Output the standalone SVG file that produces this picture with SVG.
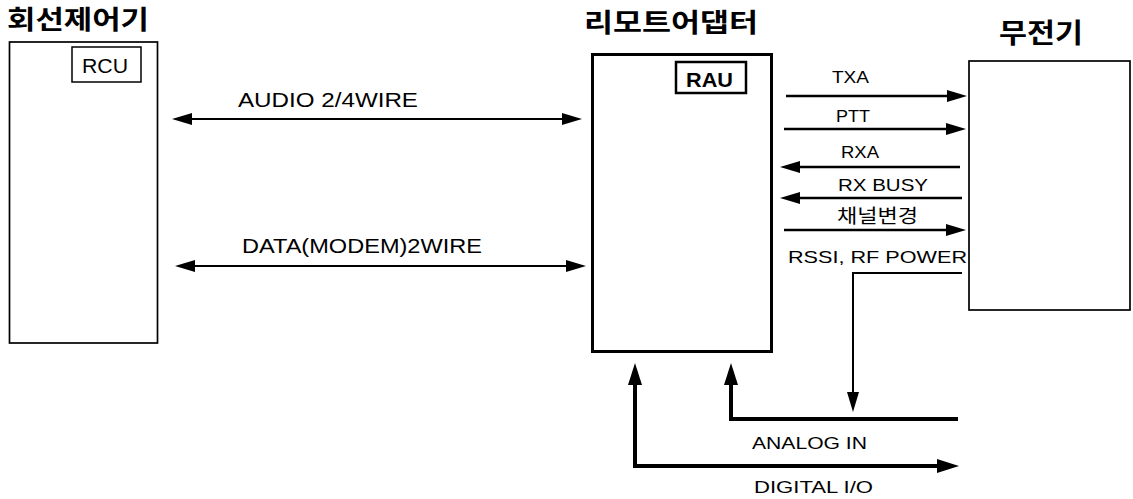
<svg xmlns="http://www.w3.org/2000/svg" width="1133" height="499" viewBox="0 0 1133 499">
<style>
text{font-family:"Liberation Sans","Noto Sans CJK KR",sans-serif;fill:#000}
.title{font-family:"Noto Sans CJK KR","Liberation Sans",sans-serif;font-weight:bold;font-size:26px}
.lbl{font-size:17px}
.big{font-size:20px}
.box{fill:#fff;stroke:#000}
.c{fill:none;stroke:#000}
</style>
<defs>
<marker id="a" viewBox="0 0 20 12" refX="12" refY="6" markerWidth="20" markerHeight="12" markerUnits="userSpaceOnUse" orient="auto-start-reverse"><path d="M0,0 L20,6 L0,12 z"/></marker>
<marker id="b" viewBox="0 0 22 14" refX="14" refY="7" markerWidth="22" markerHeight="14" markerUnits="userSpaceOnUse" orient="auto-start-reverse"><path d="M0,0 L22,7 L0,14 z"/></marker>
</defs>
<rect width="1133" height="499" fill="#fff"/>
<g id="rcu-node">
<text class="title" x="7" y="29" textLength="142" lengthAdjust="spacingAndGlyphs">회선제어기</text>
<rect class="box" x="9.5" y="42" width="148" height="301" stroke-width="1.7"/>
<rect class="box" x="72" y="47" width="69" height="35" stroke-width="1.5"/>
<text class="big" x="82" y="73" textLength="46" lengthAdjust="spacingAndGlyphs">RCU</text>
</g>
<g id="rau-node">
<text class="title" x="584" y="32" textLength="174" lengthAdjust="spacingAndGlyphs">리모트어댑터</text>
<rect class="box" x="592.5" y="54.5" width="179" height="297" stroke-width="3"/>
<rect class="box" x="676" y="62" width="70" height="31" stroke-width="2.5"/>
<text class="big" x="686" y="87" font-weight="bold" textLength="47" lengthAdjust="spacingAndGlyphs">RAU</text>
</g>
<g id="radio-node">
<text class="title" x="999" y="43" textLength="84" lengthAdjust="spacingAndGlyphs" style="font-size:27px">무전기</text>
<rect class="box" x="969" y="61" width="161" height="249" stroke-width="1.7"/>
</g>
<g id="connectors">
<line class="c" x1="180" y1="119" x2="574" y2="119" stroke-width="2" marker-start="url(#a)" marker-end="url(#a)"/>
<line class="c" x1="183" y1="266" x2="578" y2="266" stroke-width="2" marker-start="url(#a)" marker-end="url(#a)"/>
<line class="c" x1="786" y1="96" x2="959" y2="96" stroke-width="2.5" marker-end="url(#a)"/>
<line class="c" x1="784" y1="129" x2="958" y2="129" stroke-width="2.5" marker-end="url(#a)"/>
<line class="c" x1="960" y1="167" x2="788" y2="167" stroke-width="2.5" marker-end="url(#a)"/>
<line class="c" x1="962" y1="198" x2="788" y2="198" stroke-width="2.5" marker-end="url(#a)"/>
<line class="c" x1="784" y1="230" x2="958" y2="230" stroke-width="2.5" marker-end="url(#a)"/>
<polyline class="c" points="962,273 853,273 853,404" stroke-width="2" marker-end="url(#a)"/>
<polyline class="c" points="958,419 731,419 731,371" stroke-width="4" marker-end="url(#b)"/>
<polyline class="c" points="635,371 635,466 951,466" stroke-width="4" marker-start="url(#b)" marker-end="url(#b)"/>
</g>
<g id="labels">
<text class="big" x="238" y="107" textLength="180" lengthAdjust="spacingAndGlyphs">AUDIO 2/4WIRE</text>
<text class="big" x="242" y="253" textLength="240" lengthAdjust="spacingAndGlyphs">DATA(MODEM)2WIRE</text>
<text class="lbl" x="832" y="83" textLength="37" lengthAdjust="spacingAndGlyphs">TXA</text>
<text class="lbl" x="836" y="122" textLength="34" lengthAdjust="spacingAndGlyphs">PTT</text>
<text class="lbl" x="841" y="158" textLength="38" lengthAdjust="spacingAndGlyphs">RXA</text>
<text class="lbl" x="838" y="191" textLength="90" lengthAdjust="spacingAndGlyphs">RX BUSY</text>
<text x="837" y="223" textLength="81" lengthAdjust="spacingAndGlyphs" style="font-family:'Noto Sans CJK KR',sans-serif;font-size:19px">채널변경</text>
<text class="lbl" x="788" y="263" textLength="179" lengthAdjust="spacingAndGlyphs">RSSI, RF POWER</text>
<text class="lbl" x="752" y="449" textLength="115" lengthAdjust="spacingAndGlyphs">ANALOG IN</text>
<text class="lbl" x="754" y="493" textLength="119" lengthAdjust="spacingAndGlyphs">DIGITAL I/O</text>
</g>
</svg>
